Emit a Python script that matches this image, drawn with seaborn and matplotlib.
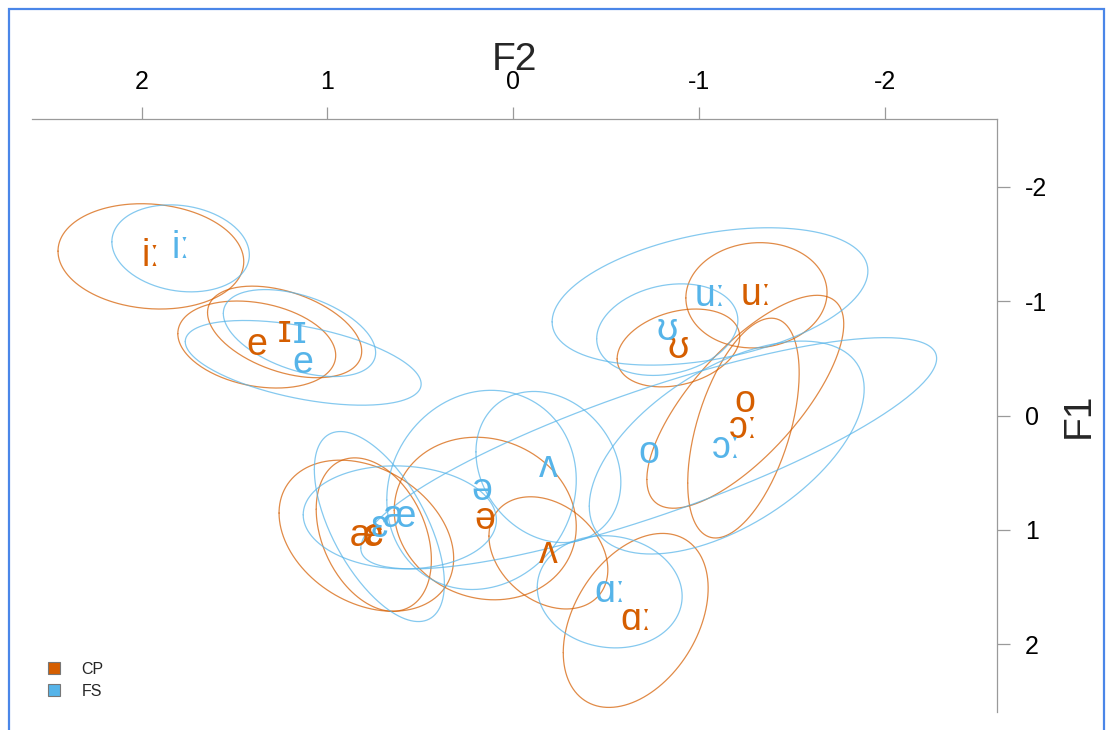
import numpy as np
import pandas as pd
import matplotlib
matplotlib.use("Agg")
import matplotlib.pyplot as plt
import seaborn as sns
from matplotlib.lines import Line2D
from matplotlib.patches import Rectangle

vowels = ["iː", "ɪ", "e", "æ", "ɛ", "ə", "ʌ", "ɑː", "ɔː", "o", "ʊ", "uː"]

# CP: normalised F2/F1 means, spreads and F2~F1 correlation per vowel
cp_f2 = [1.95, 1.23, 1.38, 0.79, 0.75, 0.15, -0.19, -0.66, -1.24, -1.25, -0.89, -1.31]
cp_f1 = [-1.39, -0.73, -0.62, 1.05, 1.04, 0.90, 1.20, 1.79, 0.11, -0.12, -0.59, -1.05]
cp_sd2 = [0.50, 0.415, 0.425, 0.47, 0.31, 0.49, 0.32, 0.39, 0.30, 0.53, 0.33, 0.38]
cp_sd1 = [0.46, 0.40, 0.38, 0.66, 0.67, 0.71, 0.49, 0.76, 0.96, 0.93, 0.34, 0.46]
cp_r = [-0.10, -0.42, -0.25, -0.30, -0.33, -0.10, -0.30, 0.37, 0.50, 0.73, 0.28, 0.05]

# FS
fs_f2 = [1.79, 1.15, 1.13, 0.61, 0.72, 0.17, -0.19, -0.52, -1.15, -0.73, -0.83, -1.06]
fs_f1 = [-1.46, -0.72, -0.46, 0.89, 0.97, 0.65, 0.45, 1.54, 0.28, 0.33, -0.75, -1.04]
fs_sd2 = [0.37, 0.41, 0.635, 0.52, 0.35, 0.51, 0.39, 0.39, 0.74, 1.55, 0.38, 0.85]
fs_sd1 = [0.38, 0.38, 0.37, 0.45, 0.83, 0.87, 0.66, 0.49, 0.93, 1.01, 0.40, 0.60]
fs_r = [-0.15, -0.45, -0.50, -0.05, -0.60, 0.10, -0.20, -0.08, 0.55, 0.82, 0.20, 0.37]

speakers = ["CP", "FS"]
colors = {"CP": "#D55E00", "FS": "#56B4E9"}

x_ticks = [2, 1, 0, -1, -2]
x_ticklabels = ["2", "1", "0", "-1", "-2"]
y_ticks = [-2, -1, 0, 1, 2]
y_ticklabels = ["-2", "-1", "0", "1", "2"]

groups = {
    "CP": (cp_f2, cp_f1, cp_sd2, cp_sd1, cp_r),
    "FS": (fs_f2, fs_f1, fs_sd2, fs_sd1, fs_r),
}

# one-SD covariance ellipses as closed outlines
t = np.linspace(0, 2 * np.pi, 240)
rows = []
for spk, (m2, m1, s2, s1, r) in groups.items():
    for v, a, b, sa, sb, rho in zip(vowels, m2, m1, s2, s1, r):
        xs = a + sa * np.cos(t)
        ys = b + sb * (rho * np.cos(t) + np.sqrt(1 - rho ** 2) * np.sin(t))
        for i, (xx, yy) in enumerate(zip(xs, ys)):
            rows.append({"speaker": spk, "vowel": v, "id": f"{spk}-{v}",
                         "order": i, "F2": xx, "F1": yy})
ell = pd.DataFrame(rows)

sns.set_style("white")
plt.rcParams["font.family"] = ["Liberation Sans", "DejaVu Sans"]

fig = plt.figure(figsize=(11.07, 7.30), dpi=100)
ax = fig.add_axes([32 / 1107, 1 - 712 / 730, (997 - 32) / 1107, (712 - 119) / 730])

sns.lineplot(data=ell, x="F2", y="F1", hue="speaker", units="id",
             estimator=None, sort=False, palette=colors, linewidth=0.9,
             alpha=0.72, legend=False, ax=ax)

for spk in speakers:
    m2, m1 = groups[spk][0], groups[spk][1]
    for v, a, b in zip(vowels, m2, m1):
        ax.text(a, b, v, color=colors[spk], fontsize=27, ha="center",
                va="center", family=["Liberation Sans", "DejaVu Sans"])

ax.set_xlim(2.59, -2.605)
ax.set_ylim(2.59, -2.59)

ax.xaxis.tick_top()
ax.xaxis.set_label_position("top")
ax.yaxis.tick_right()
ax.yaxis.set_label_position("right")
ax.set_xticks(x_ticks)
ax.set_xticklabels(x_ticklabels)
ax.set_yticks(y_ticks)
ax.set_yticklabels(y_ticklabels)
ax.tick_params(axis="both", length=9, width=0.9, color="#9a9a9a",
               labelsize=18, labelcolor="black")
ax.tick_params(axis="x", pad=9)
ax.tick_params(axis="y", pad=11)
ax.set_xlabel("F2", fontsize=28, labelpad=0)
ax.set_ylabel("F1", fontsize=28, labelpad=10, rotation=90)

for side in ["left", "bottom"]:
    ax.spines[side].set_visible(False)
for side in ["top", "right"]:
    ax.spines[side].set_color("#9a9a9a")
    ax.spines[side].set_linewidth(0.9)

handles = [Line2D([0], [0], marker="s", linestyle="", markersize=9,
                  markerfacecolor=colors[s], markeredgecolor="#777777",
                  markeredgewidth=0.8) for s in speakers]
ax.legend(handles, speakers, loc="lower left", bbox_to_anchor=(-0.009, -0.002),
          frameon=False, fontsize=11.5, handletextpad=0.75, labelspacing=0.45)

fig.patches.append(Rectangle((8.5 / 1107, -0.1), (1104 - 8.5) / 1107, 1.1 - 9 / 730,
                             transform=fig.transFigure, fill=False,
                             edgecolor="#4A86E8", linewidth=1.6))

fig.savefig("out.png", dpi=100)
